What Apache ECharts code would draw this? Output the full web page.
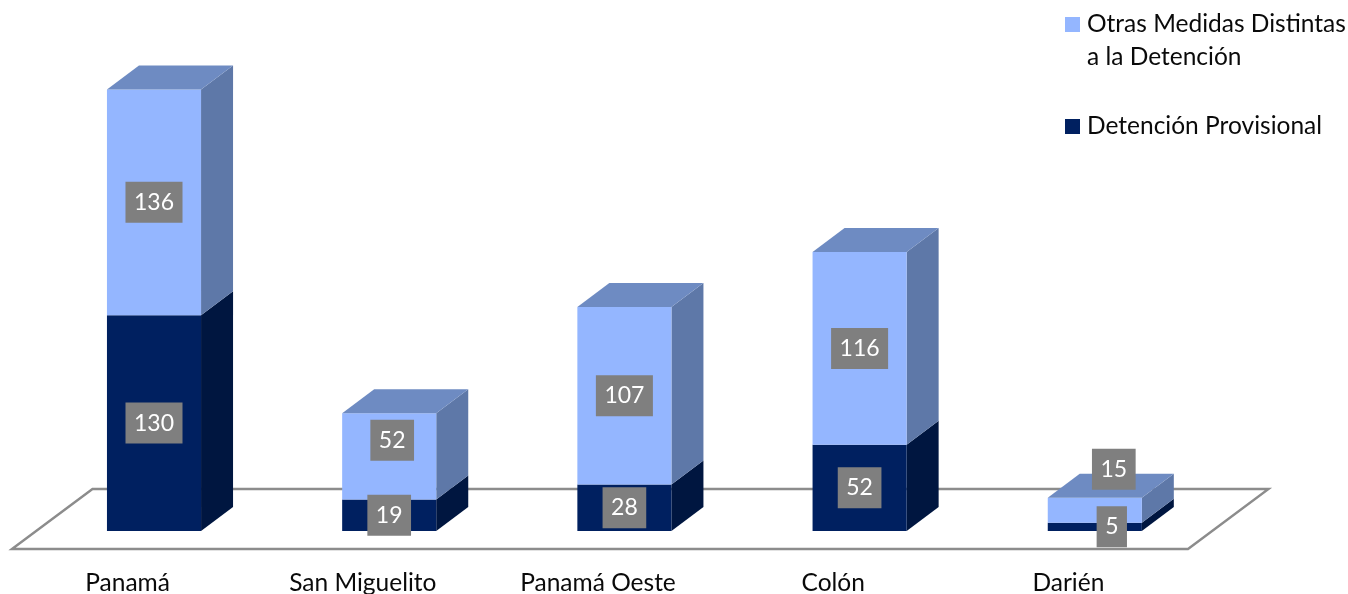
<!DOCTYPE html>
<html><head><meta charset="utf-8">
<style>html,body{margin:0;padding:0;background:#fff}#c{width:1348px;height:594px}</style>
<script src="https://cdn.jsdelivr.net/npm/echarts@6/dist/echarts.min.js"></script>
</head><body><div id="c"></div>
<script>
const categories = ['Panamá','San Miguelito','Panamá Oeste','Colón','Darién'];
const detencion = [130,19,28,52,5];
const otras = [136,52,107,116,15];
const nameOtras = 'Otras Medidas Distintas\na la Detención';
const nameDetencion = 'Detención Provisional';

// display tweaks for the value boxes (manually moved in the original)
const shiftOtras = [[0,0],[3,-16],[0,0],[0,0],[19,-41]];
const shiftDet = [[0,0],[0,0],[0,0],[0,0],[17,0]];

const FONT = 'Lato';
const DX = 32, DY = -24, OX = 24.4, OY = -18;

function barItem(colors, withTop){
  return function(params, api){
    const i = api.value(0), lo = api.value(1), hi = api.value(2);
    const a = api.coord([i, lo]), b = api.coord([i, hi]);
    const hw = api.size([1,0])[0]*0.2;
    const xl = a[0]+OX-hw, xr = a[0]+OX+hw, y0 = a[1]+OY, y1 = b[1]+OY;
    const kids = [
      {type:'polygon',shape:{points:[[xr,y0],[xr+DX,y0+DY],[xr+DX,y1+DY],[xr,y1]]},style:{fill:colors.side}},
      {type:'rect',shape:{x:xl,y:y1,width:xr-xl,height:y0-y1},style:{fill:colors.front}}
    ];
    if(withTop) kids.push({type:'polygon',shape:{points:[[xl,y1],[xl+DX,y1+DY],[xr+DX,y1+DY],[xr,y1]]},style:{fill:colors.top}});
    return {type:'group',children:kids};
  };
}
function labelItem(params, api){
  const i = api.value(0), lo = api.value(1), hi = api.value(2);
  const a = api.coord([i,(lo+hi)/2]);
  const v = hi-lo;
  return {type:'text',x:a[0]+OX+api.value(3),y:a[1]+OY+api.value(4),z2:10,
    style:{text:String(v),font:'23px '+FONT,fill:'#fff',align:'center',verticalAlign:'middle',
      backgroundColor:'#7f7f7f',padding:[9,8.5,9,8.5]}};
}
function floorItem(params, api){
  const c = params.coordSys;
  const xl=c.x, xr=c.x+c.width, yb=c.y+c.height;
  return {type:'polygon',shape:{points:[[xl,yb],[xl+80.5,yb-60],[xr+80.5,yb-60],[xr,yb]]},
    style:{fill:'#fff',stroke:'#8c8c8c',lineWidth:2.4}};
}
const detData = detencion.map((v,i)=>[i,0,v]);
const otrasData = otras.map((v,i)=>[i,detencion[i],detencion[i]+v]);
const labelData = [
  ...detencion.map((v,i)=>[i,0,v,shiftDet[i][0],shiftDet[i][1]]),
  ...otras.map((v,i)=>[i,detencion[i],detencion[i]+v,shiftOtras[i][0],shiftOtras[i][1]])
];
const darkC = {front:'#002060',side:'#001640'};
const lightC = {front:'#94B6FF',side:'#5E78A8',top:'#6E8BC2'};
const legendText = {fontFamily:FONT,fontSize:24.5,color:'#0a0a0a',lineHeight:33,padding:[0,0,0,2]};

const chart = echarts.init(document.getElementById('c'),null,{renderer:'canvas'});
chart.setOption({
  animation:false,
  backgroundColor:'#fff',
  grid:{left:12,width:1176,top:51,height:498,outerBoundsMode:'none'},
  xAxis:{type:'category',data:categories,axisLine:{show:false},axisTick:{show:false},
    axisLabel:{fontFamily:FONT,fontSize:24.5,color:'#0a0a0a',margin:22,interval:0,padding:[0,4,0,0]}},
  yAxis:{type:'value',min:0,max:300,show:false},
  legend:[
    {left:1060,top:3,orient:'vertical',selectedMode:false,itemWidth:15,itemHeight:66,
     icon:'path://M0 9H15V24H0Z M0 0H0.01V0.01Z M0 66H0.01V66Z',data:[nameOtras],textStyle:legendText},
    {left:1060,top:105,orient:'vertical',selectedMode:false,itemWidth:15,itemHeight:15,
     icon:'rect',data:[nameDetencion],textStyle:legendText}
  ],
  series:[
    {type:'custom',name:'floor',silent:true,data:[[0,0]],renderItem:floorItem,z:1,clip:false},
    {type:'custom',name:nameDetencion,data:detData,encode:{x:0,y:[1,2]},renderItem:barItem(darkC,false),itemStyle:{color:darkC.front},z:2,clip:false},
    {type:'custom',name:nameOtras,data:otrasData,encode:{x:0,y:[1,2]},renderItem:barItem(lightC,true),itemStyle:{color:lightC.front},z:3,clip:false},
    {type:'custom',name:'labels',silent:true,data:labelData,encode:{x:0,y:[1,2]},renderItem:labelItem,z:4,clip:false}
  ]
});
</script></body></html>
